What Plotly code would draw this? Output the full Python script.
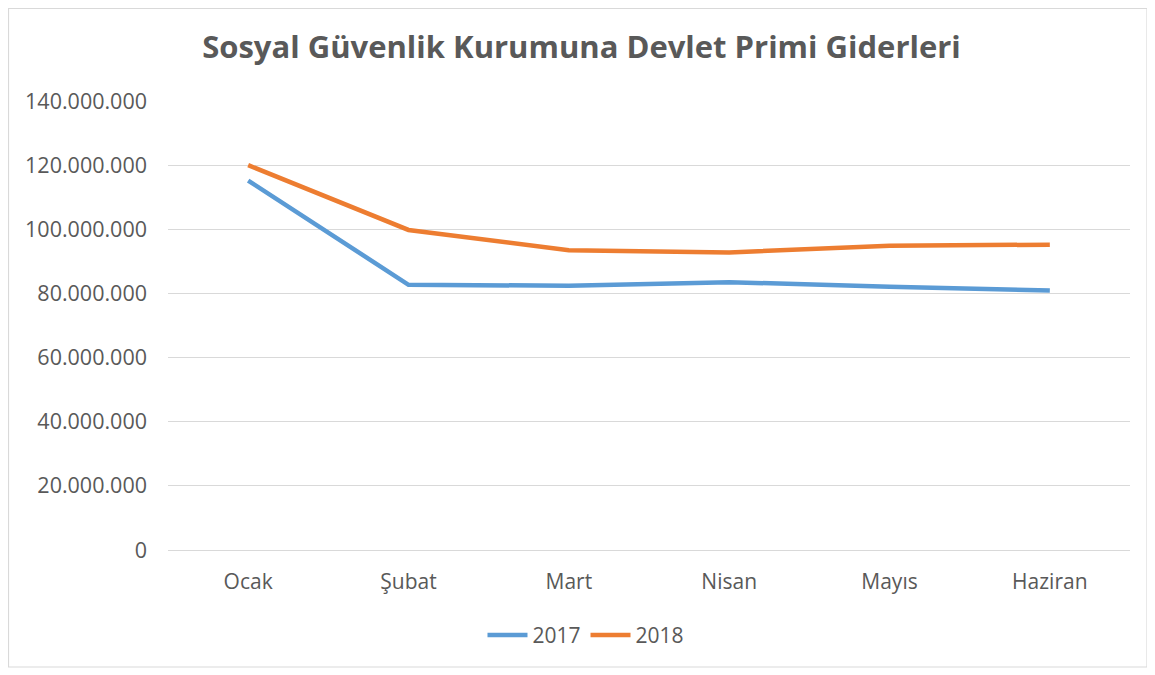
import plotly.graph_objects as go

months = ["Ocak", "Şubat", "Mart", "Nisan", "Mayıs", "Haziran"]
y2017 = [115200000, 82700000, 82400000, 83500000, 82100000, 80900000]
y2018 = [120000000, 99800000, 93500000, 92800000, 94900000, 95200000]
tickvals = [0, 20000000, 40000000, 60000000, 80000000, 100000000, 120000000, 140000000]

FONT = "Open Sans, Liberation Sans, sans-serif"
GREY = "#595959"

fig = go.Figure()
fig.add_trace(go.Scatter(x=months, y=y2017, name="2017", mode="lines",
                         line=dict(color="#5b9bd5", width=4.5)))
fig.add_trace(go.Scatter(x=months, y=y2018, name="2018", mode="lines",
                         line=dict(color="#ed7d31", width=4.5)))

# page body has an 8px margin, so the figure is sized/offset to compensate
fig.update_layout(
    width=1147, height=667,
    margin=dict(l=160, r=25, t=93, b=125),
    paper_bgcolor="white", plot_bgcolor="white",
    separators=",.",
    font=dict(family=FONT, color=GREY, size=21),
    title=dict(text="<b>Sosyal Güvenlik Kurumuna Devlet Primi Giderleri</b>",
               x=0.5, xref="container", xanchor="center", y=0.9415, yref="container",
               yanchor="middle", font=dict(size=31, color=GREY, family=FONT)),
    showlegend=True,
    legend=dict(orientation="h", x=0.4345, xanchor="center", y=-0.19, yanchor="middle",
                font=dict(size=21, color=GREY), itemwidth=40, traceorder="normal"),
    xaxis=dict(range=[-0.5, 5.5], showgrid=False, showline=False, zeroline=False,
               ticks="", tickfont=dict(size=21, color=GREY), ticklabelstandoff=17),
    yaxis=dict(range=[0, 140000000], tickvals=tickvals, tickformat=",d",
               showgrid=True, gridcolor="#d9d9d9", gridwidth=1.2,
               zeroline=True, zerolinecolor="#d9d9d9", zerolinewidth=1.2,
               showline=False, ticks="", tickfont=dict(size=21.5, color=GREY),
               ticklabelstandoff=20),
    shapes=[dict(type="rect", xref="paper", yref="paper",
                 x0=-0.1658, x1=1.0177, y0=-0.2606, y1=1.206,
                 line=dict(color="#d9d9d9", width=1.2), fillcolor="rgba(0,0,0,0)",
                 layer="below")],
)

fig.write_html("out.html")
